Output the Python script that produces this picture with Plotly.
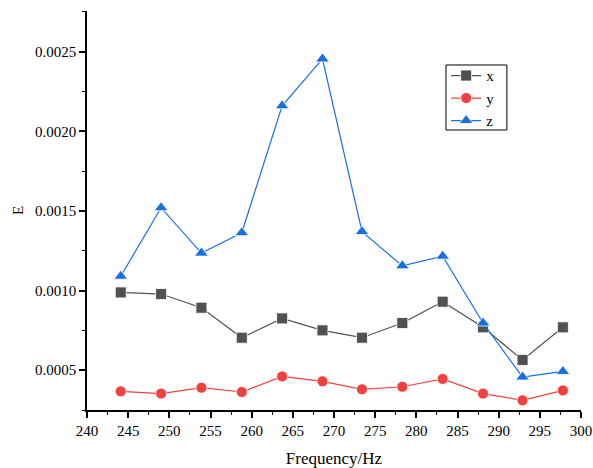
import plotly.graph_objects as go

freq = [244.1, 249.0, 253.9, 258.8, 263.7, 268.6, 273.4, 278.3, 283.2, 288.1, 292.9, 297.8]
ex = [0.000988, 0.000978, 0.000892, 0.000704, 0.000825, 0.000750, 0.000704, 0.000796, 0.000930, 0.000769, 0.000564, 0.000769]
ey = [0.000367, 0.000353, 0.000390, 0.000363, 0.000461, 0.000430, 0.000380, 0.000396, 0.000445, 0.000353, 0.000311, 0.000373]
ez = [0.00109, 0.00152, 0.001235, 0.001363, 0.00216, 0.002454, 0.00137, 0.001155, 0.001216, 0.000796, 0.000457, 0.000492]
names = ["x", "y", "z"]
colors = ["#515151", "#F14040", "#1A6FDF"]
symbols = ["square", "circle", "triangle-up"]

fig = go.Figure()
for name, vals, c, s in zip(names, [ex, ey, ez], colors, symbols):
    fig.add_trace(go.Scatter(
        x=freq, y=vals, name=name, mode="lines+markers",
        line=dict(color=c, width=1.2),
        marker=dict(symbol=s, size=11 if s != "triangle-up" else 12, color=c,
                    line=dict(color="rgba(255,255,255,0.8)", width=1)),
    ))

FAM = "Liberation Serif"
font = dict(family=FAM, color="black")
fig.update_layout(
    width=593, height=468,
    margin=dict(l=87, r=12, t=11, b=58, autoexpand=False),
    paper_bgcolor="white", plot_bgcolor="white",
    font=dict(size=15, **font),
    showlegend=True,
    legend=dict(x=0.727, y=0.879, xanchor="left", yanchor="top",
                borderwidth=0, bgcolor="rgba(0,0,0,0)",
                font=dict(size=15, **font), tracegroupgap=0),
    shapes=[dict(type="rect", xref="paper", yref="paper",
                 x0=0.7267, x1=0.850, y0=0.7018, y1=0.8647,
                 line=dict(color="black", width=1), fillcolor="rgba(0,0,0,0)", layer="above")],
)
fig.update_xaxes(
    range=[240, 300], dtick=5, tick0=240, showline=True, linecolor="black", linewidth=1.5,
    ticks="outside", ticklen=6, tickwidth=1.5, tickcolor="black", showgrid=False, zeroline=False,
    automargin=False,
    minor=dict(dtick=2.5, tick0=240, ticks="outside", ticklen=3, tickwidth=1.2, tickcolor="black", showgrid=False),
    title=dict(text="Frequency/Hz", font=dict(size=17, **font), standoff=15),
    tickfont=dict(size=15, **font),
)
fig.update_yaxes(
    range=[0.00025, 0.002755], dtick=0.0005, tick0=0, tickformat=".4f", showline=True,
    linecolor="black", linewidth=1.5, automargin=False,
    ticks="outside", ticklen=6, tickwidth=1.5, tickcolor="black", showgrid=False, zeroline=False,
    minor=dict(dtick=0.00025, tick0=0, ticks="outside", ticklen=3, tickwidth=1.2, tickcolor="black", showgrid=False),
    title=dict(text="E", font=dict(size=15, **font), standoff=8),
    tickfont=dict(size=15, **font),
)
fig.write_html("out.html")
